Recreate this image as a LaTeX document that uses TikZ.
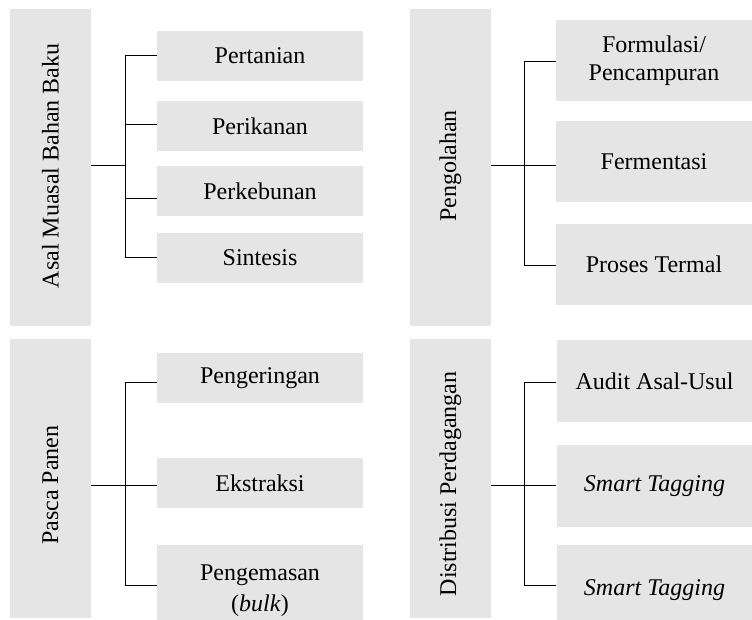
\documentclass[tikz,border=0pt]{standalone}
\usepackage{fontspec}
\setmainfont{Liberation Serif}
\begin{document}
\begin{tikzpicture}[x=1pt,y=-1pt,
  box/.style={fill=gray!20,draw=none,inner sep=0pt,align=center,
    font=\fontsize{24}{28}\selectfont},
  conn/.style={line width=1pt,black}]
\useasboundingbox (0,0) rectangle (752,620);
% ---- top left
\node[box,minimum width=81pt,minimum height=317pt] (L1) at (50.5,167.5) {};
\node[font=\fontsize{24}{28}\selectfont,rotate=90,inner sep=0pt] (L1t) at (50.5,166) {Asal Muasal Bahan Baku};
\node[box,minimum width=206pt,minimum height=50pt] (a1) at (260,56) {Pertanian};
\node[box,minimum width=206pt,minimum height=50pt] (a2) at (260,126) {Perikanan};
\node[box,minimum width=206pt,minimum height=50pt] (a3) at (260,191) {Perkebunan};
\node[box,minimum width=206pt,minimum height=50pt] (a4) at (260,258) {Sintesis};
\coordinate (ja) at (125,166);
\coordinate (ba1) at (125,56);
\coordinate (ba2) at (125,125);
\coordinate (ba3) at (125,199);
\coordinate (ba4) at (125,258);
\draw[conn] (L1.east |- ja) -- (ja);
\draw[conn] (ba1) -- (ba4);
\draw[conn] (ba1) -- (a1.west |- ba1);
\draw[conn] (ba2) -- (a2.west |- ba2);
\draw[conn] (ba3) -- (a3.west |- ba3);
\draw[conn] (ba4) -- (a4.west |- ba4);
% ---- top right
\node[box,minimum width=81pt,minimum height=317pt] (L2) at (450.5,167.5) {};
\node[font=\fontsize{24}{28}\selectfont,rotate=90,inner sep=0pt] (L2t) at (450.5,166) {Pengolahan};
\node[box,minimum width=196pt,minimum height=81pt] (b1) at (654,60.5) {Formulasi/\\Pencampuran};
\node[box,minimum width=196pt,minimum height=81pt] (b2) at (654,161.5) {Fermentasi};
\node[box,minimum width=196pt,minimum height=81pt] (b3) at (654,264.5) {Proses Termal};
\coordinate (jb) at (524,166);
\coordinate (bb1) at (524,62);
\coordinate (bb2) at (524,166);
\coordinate (bb3) at (524,266);
\draw[conn] (L2.east |- jb) -- (jb);
\draw[conn] (bb1) -- (bb3);
\draw[conn] (bb1) -- (b1.west |- bb1);
\draw[conn] (bb2) -- (b2.west |- bb2);
\draw[conn] (bb3) -- (b3.west |- bb3);
% ---- bottom left
\node[box,minimum width=81pt,minimum height=279pt] (L3) at (50.5,478.5) {};
\node[font=\fontsize{24}{28}\selectfont,rotate=90,inner sep=0pt] (L3t) at (50.5,485) {Pasca Panen};
\node[box,minimum width=206pt,minimum height=50pt] (c1) at (260,378) {Pengeringan};
\node[box,minimum width=206pt,minimum height=50pt] (c2) at (260,483) {Ekstraksi};
\node[box,minimum width=206pt,minimum height=91pt] (c3) at (260,590.5) {Pengemasan\\[3pt](\textit{bulk})};
\coordinate (jc) at (125,485);
\coordinate (bc1) at (125,382);
\coordinate (bc2) at (125,485);
\coordinate (bc3) at (125,585);
\draw[conn] (L3.east |- jc) -- (jc);
\draw[conn] (bc1) -- (bc3);
\draw[conn] (bc1) -- (c1.west |- bc1);
\draw[conn] (bc2) -- (c2.west |- bc2);
\draw[conn] (bc3) -- (c3.west |- bc3);
% ---- bottom right
\node[box,minimum width=81pt,minimum height=279pt] (L4) at (450.5,478.5) {};
\node[font=\fontsize{24}{28}\selectfont,rotate=90,inner sep=0pt] (L4t) at (450.5,484) {Distribusi Perdagangan};
\node[box,minimum width=196pt,minimum height=82pt] (d1) at (654.5,381) {Audit Asal-Usul};
\node[box,minimum width=196pt,minimum height=82pt] (d2) at (654.5,486) {\textit{Smart Tagging}};
\node[box,minimum width=196pt,minimum height=91pt] (d3) at (654.5,590.5) {\textit{Smart Tagging}};
\coordinate (jd) at (524,485);
\coordinate (bd1) at (524,382);
\coordinate (bd2) at (524,485);
\coordinate (bd3) at (524,585);
\draw[conn] (L4.east |- jd) -- (jd);
\draw[conn] (bd1) -- (bd3);
\draw[conn] (bd1) -- (d1.west |- bd1);
\draw[conn] (bd2) -- (d2.west |- bd2);
\draw[conn] (bd3) -- (d3.west |- bd3);
\end{tikzpicture}
\end{document}
